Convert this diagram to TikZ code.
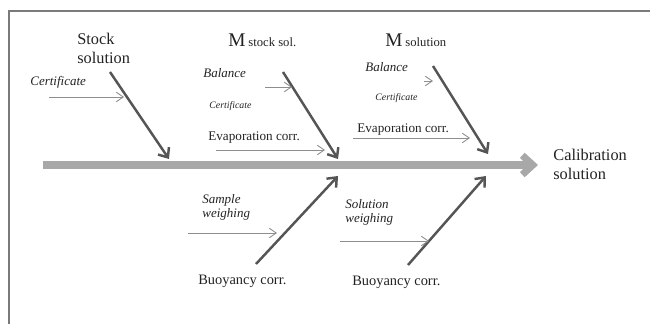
\documentclass[tikz,border=0pt]{standalone}
\usepackage{fontspec}
\setmainfont{Liberation Serif}
\usetikzlibrary{arrows.meta}
\definecolor{framegray}{HTML}{7A7A7A}
\definecolor{spinegray}{HTML}{A8A8A8}
\definecolor{bonegray}{HTML}{555555}
\definecolor{thingray}{HTML}{8E8E8E}
\definecolor{txt}{HTML}{222222}
\tikzset{
  lbl/.style={inner sep=0pt, text=txt, anchor=base west},
  big/.style={font=\fontsize{9.3}{10.8}\selectfont},
  mid/.style={font=\fontsize{7.5}{9}\selectfont},
  itl/.style={font=\fontsize{7.4}{8}\selectfont\itshape},
  tiny/.style={font=\fontsize{5.6}{7}\selectfont\itshape},
  bone/.style={draw=bonegray, line width=1.4pt, -{Straight Barb[length=4.5pt,width=7.5pt]}},
  twig/.style={draw=thingray, line width=0.5pt, -{Straight Barb[length=4pt,width=5.5pt]}},
  spine/.style={draw=spinegray, line width=4pt, -{Straight Barb[length=6pt,width=11pt]}},
}
\begin{document}
\begin{tikzpicture}[x=0.02cm,y=-0.02cm]
\useasboundingbox (0,0) rectangle (650,324);
% frame (top and left edges)
\draw[framegray, line width=1.1pt] (9,324) -- (9,11) -- (650,11);
% spine
\coordinate (sp0) at (43,165);
\coordinate (sp1) at (538,165);
\draw[spine] (sp0) -- (sp1);
\node[lbl, big, anchor=west, align=left] (calib) at (553,164) {Calibration\\solution};
% Stock solution bone
\node[lbl, big, anchor=west, align=left] (stock) at (77,48) {Stock\\solution};
\coordinate (b1s) at (110,72);
\coordinate (b1e) at (169,159);
\draw[bone] (b1s) -- (b1e);
\node[lbl, itl] (cert1) at (30,86) {Certificate};
\coordinate (t1s) at (49,97);
\coordinate (t1e) at (124,97);
\draw[twig] (t1s) -- (t1e);
% M stock sol. bone
\node[lbl] (mstock) at (228,47) {{\fontsize{11}{13}\selectfont M}\,{\fontsize{7.2}{9}\selectfont stock sol.}};
\coordinate (b2s) at (283,72);
\coordinate (b2e) at (338,159);
\draw[bone] (b2s) -- (b2e);
\node[lbl, itl] (bal2) at (203,78) {Balance};
\coordinate (t2s) at (265,87);
\coordinate (t2e) at (292,87);
\draw[twig] (t2s) -- (t2e);
\node[lbl, tiny] (cert2) at (209,109) {Certificate};
\node[lbl, mid] (evap2) at (208,141) {Evaporation corr.};
\coordinate (t3s) at (216,150);
\coordinate (t3e) at (325,150);
\draw[twig] (t3s) -- (t3e);
% M solution bone
\node[lbl] (msol) at (385,47) {{\fontsize{11}{13}\selectfont M}\,{\fontsize{7.2}{9}\selectfont solution}};
\coordinate (b3s) at (433,66);
\coordinate (b3e) at (488,154);
\draw[bone] (b3s) -- (b3e);
\node[lbl, itl] (bal3) at (365,72) {Balance};
\coordinate (t4s) at (424,81);
\coordinate (t4e) at (433,81);
\draw[twig] (t4s) -- (t4e);
\node[lbl, tiny] (cert3) at (375,101) {Certificate};
\node[lbl, mid] (evap3) at (357,133) {Evaporation corr.};
\coordinate (t5s) at (353,138);
\coordinate (t5e) at (470,138);
\draw[twig] (t5s) -- (t5e);
% lower bones
\coordinate (b4s) at (256,264);
\coordinate (b4e) at (338,176);
\draw[bone] (b4s) -- (b4e);
\node[lbl, itl, anchor=west, align=left] (samp) at (202,207) {Sample\\weighing};
\coordinate (t6s) at (188,233);
\coordinate (t6e) at (277,233);
\draw[twig] (t6s) -- (t6e);
\node[lbl, mid, font=\fontsize{8.2}{10}\selectfont] (buoy1) at (198,285) {Buoyancy corr.};
\coordinate (b5s) at (408,265);
\coordinate (b5e) at (486,176);
\draw[bone] (b5s) -- (b5e);
\node[lbl, itl, anchor=west, align=left] (solw) at (345,212) {Solution\\weighing};
\coordinate (t7s) at (340,241);
\coordinate (t7e) at (429,241);
\draw[twig] (t7s) -- (t7e);
\node[lbl, mid, font=\fontsize{8.2}{10}\selectfont] (buoy2) at (352,286) {Buoyancy corr.};
\end{tikzpicture}
\end{document}
